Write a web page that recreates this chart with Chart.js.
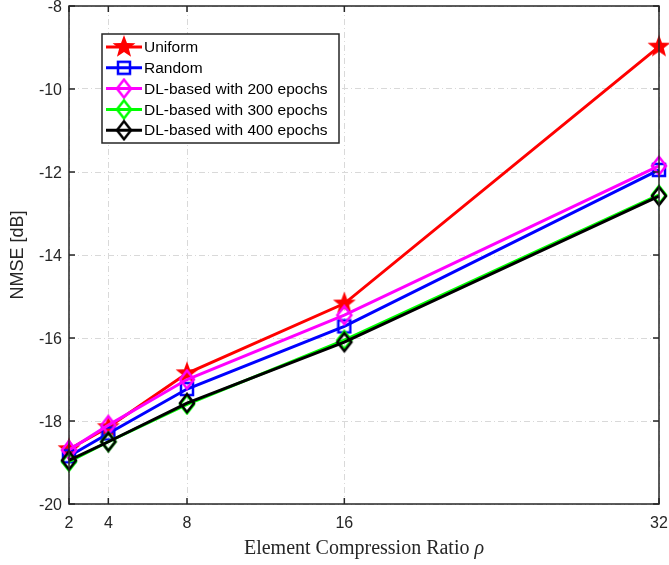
<!DOCTYPE html>
<html>
<head>
<meta charset="UTF-8">
<title>NMSE vs compression ratio</title>
<style>
  body { margin: 0; background: #fff; }
  #wrap { width: 669px; height: 565px; position: relative; }
</style>
</head>
<body>
<div id="wrap"><canvas id="c"></canvas></div>
<script src="https://cdn.jsdelivr.net/npm/chart.js"></script>
<script>
// data
const ratios = [2, 4, 8, 16, 32];
const xTicks = [2, 4, 8, 16, 32];
const yTicks = [-20, -18, -16, -14, -12, -10, -8];
const uniform = [-18.68, -18.15, -16.85, -15.17, -8.98];
const random = [-18.85, -18.3, -17.23, -15.72, -11.95];
const dl200 = [-18.7, -18.1, -17.0, -15.45, -11.85];
const dl300 = [-18.98, -18.5, -17.6, -16.05, -12.55];
const dl400 = [-18.95, -18.5, -17.57, -16.1, -12.58];
const labels = ['Uniform', 'Random', 'DL-based with 200 epochs', 'DL-based with 300 epochs', 'DL-based with 400 epochs'];

const sansFont = '"Liberation Sans", Arial, sans-serif';
const serifFont = '"Liberation Serif", "Times New Roman", serif';

// marker images
function marker(kind, color, size) {
  const cv = document.createElement('canvas');
  cv.width = cv.height = size;
  const g = cv.getContext('2d');
  const c = size / 2;
  g.lineWidth = 2.5;
  g.strokeStyle = color;
  g.fillStyle = color;
  g.beginPath();
  if (kind === 'star') {
    const R = c - 1, r = R * 0.42;
    for (let i = 0; i < 10; i++) {
      const a = -Math.PI / 2 + i * Math.PI / 5;
      const rr = i % 2 ? r : R;
      g.lineTo(c + rr * Math.cos(a), c + rr * Math.sin(a));
    }
    g.closePath();
    g.fill();
  } else if (kind === 'square') {
    const h = c - 2;
    g.rect(c - h, c - h, 2 * h, 2 * h);
    g.stroke();
  } else {
    const h = c - 2;
    g.moveTo(c, c - h); g.lineTo(c + h * 0.78, c); g.lineTo(c, c + h); g.lineTo(c - h * 0.78, c);
    g.closePath();
    g.stroke();
  }
  return cv;
}

const colors = ['#ff0000', '#0000ff', '#ff00ff', '#00ff00', '#000000'];
const series = [uniform, random, dl200, dl300, dl400];
const markers = [
  marker('star', colors[0], 26),
  marker('square', colors[1], 16),
  marker('diamond', colors[2], 22),
  marker('diamond', colors[3], 22),
  marker('diamond', colors[4], 22)
];

// Chart.js paints index 0 last, so reverse to keep later series on top
const datasets = series.map((s, i) => ({
  label: labels[i],
  data: ratios.map((x, j) => ({ x: x, y: s[j] })),
  borderColor: colors[i],
  backgroundColor: colors[i],
  borderWidth: 3,
  pointStyle: markers[i],
  pointRadius: 10,
  pointHoverRadius: 10,
  tension: 0,
  clip: false
})).reverse();

// box, inward ticks, legend and x title like the MATLAB figure
const framePlugin = {
  id: 'frame',
  afterDatasetsDraw(chart) {
    const { ctx, chartArea: a, scales } = chart;
    ctx.save();
    ctx.strokeStyle = '#262626';
    ctx.lineWidth = 1.5;
    ctx.strokeRect(a.left, a.top, a.right - a.left, a.bottom - a.top);
    ctx.beginPath();
    xTicks.forEach(v => {
      const px = scales.x.getPixelForValue(v);
      ctx.moveTo(px, a.bottom); ctx.lineTo(px, a.bottom - 6);
      ctx.moveTo(px, a.top); ctx.lineTo(px, a.top + 6);
    });
    yTicks.forEach(v => {
      const py = scales.y.getPixelForValue(v);
      ctx.moveTo(a.left, py); ctx.lineTo(a.left + 6, py);
      ctx.moveTo(a.right, py); ctx.lineTo(a.right - 6, py);
    });
    ctx.stroke();

    // legend
    const lx = 102, ly = 34, lw = 237, lh = 109;
    ctx.fillStyle = '#fff';
    ctx.fillRect(lx, ly, lw, lh);
    ctx.strokeStyle = '#262626';
    ctx.lineWidth = 1.5;
    ctx.strokeRect(lx, ly, lw, lh);
    ctx.font = '15.5px ' + sansFont;
    ctx.textBaseline = 'middle';
    labels.forEach((t, i) => {
      const y = 47 + i * 20.8;
      ctx.strokeStyle = colors[i];
      ctx.lineWidth = 3;
      ctx.beginPath();
      ctx.moveTo(106, y); ctx.lineTo(142, y);
      ctx.stroke();
      const m = markers[i];
      ctx.drawImage(m, 124 - m.width / 2, y - m.height / 2);
      ctx.fillStyle = '#000';
      ctx.fillText(t, 144, y + 1);
    });

    // x title with italic rho
    const main = 'Element Compression Ratio ';
    ctx.fillStyle = '#262626';
    ctx.font = '20px ' + serifFont;
    const w1 = ctx.measureText(main).width;
    ctx.font = 'italic 20px ' + serifFont;
    const w2 = ctx.measureText('ρ').width;
    const x0 = (a.left + a.right) / 2 - (w1 + w2) / 2;
    ctx.textAlign = 'left';
    ctx.font = '20px ' + serifFont;
    ctx.fillText(main, x0, 549);
    ctx.font = 'italic 20px ' + serifFont;
    ctx.fillText('ρ', x0 + w1, 549);
    ctx.restore();
  }
};

const gridDash = [6, 3, 1, 3];
new Chart(document.getElementById('c'), {
  type: 'line',
  data: { datasets: datasets },
  plugins: [framePlugin],
  options: {
    responsive: true,
    maintainAspectRatio: false,
    animation: false,
    layout: { autoPadding: false, padding: { left: 0, right: 10, top: 6, bottom: 0 } },
    plugins: { legend: { display: false }, tooltip: { enabled: false } },
    scales: {
      x: {
        type: 'linear',
        min: 2,
        max: 32,
        afterBuildTicks: s => { s.ticks = xTicks.map(v => ({ value: v })); },
        afterFit: s => { s.height = 61; s.paddingLeft = 0; s.paddingRight = 0; },
        grid: { color: '#d9d9d9', lineWidth: 1, drawTicks: false },
        border: { display: false, dash: gridDash },
        ticks: { color: '#262626', padding: 10, maxRotation: 0, font: { size: 16, family: sansFont } },
        title: { display: false }
      },
      y: {
        min: -20,
        max: -8,
        afterBuildTicks: s => { s.ticks = yTicks.map(v => ({ value: v })); },
        afterFit: s => { s.width = 69; s.paddingTop = 0; s.paddingBottom = 0; },
        grid: { color: '#d9d9d9', lineWidth: 1, drawTicks: false },
        border: { display: false, dash: gridDash },
        ticks: { color: '#262626', padding: 7, labelOffset: 2, font: { size: 16, family: sansFont } },
        title: {
          display: true,
          text: 'NMSE [dB]',
          color: '#262626',
          padding: { top: 7, bottom: 0 },
          font: { size: 18, family: sansFont }
        }
      }
    }
  }
});
</script>
</body>
</html>
